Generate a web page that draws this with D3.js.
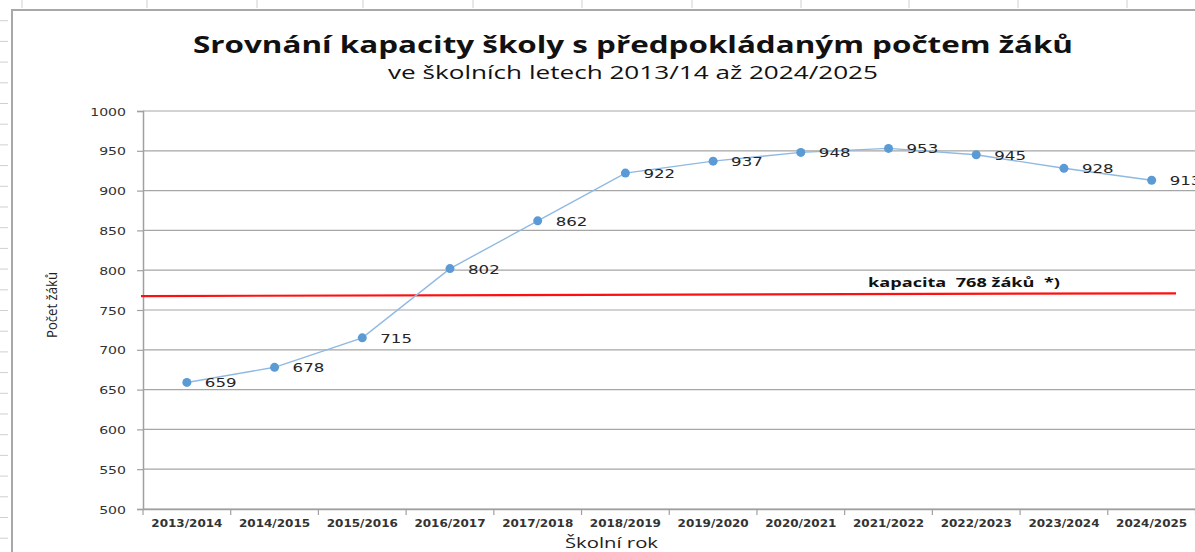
<!DOCTYPE html>
<html><head><meta charset="utf-8">
<script src="https://cdn.jsdelivr.net/npm/d3@7"></script>
<style>body{margin:0;background:#fff;overflow:hidden}svg{display:block}</style>
</head><body>
<svg id="c" width="1195" height="552"></svg>
<script>
const categories = ["2013/2014","2014/2015","2015/2016","2016/2017","2017/2018","2018/2019","2019/2020","2020/2021","2021/2022","2022/2023","2023/2024","2024/2025"];
const pupils = [659,678,715,802,862,922,937,948,953,945,928,913];
const capacityEnds = [767.5, 771];
const capacityLabel = "kapacita  768 žáků  *)";
const yTicks = [500,550,600,650,700,750,800,850,900,950,1000];
const title = "Srovnání kapacity školy s předpokládaným počtem žáků";
const subtitle = "ve školních letech 2013/14 až 2024/2025";
const xTitle = "Školní rok";
const yTitle = "Počet žáků";

const svg = d3.select("#c");
const M = {l:143, r:1195.5, t:111, b:509};
const x = d3.scaleBand().domain(categories).range([M.l, M.r]);
const y = d3.scaleLinear().domain([500,1000]).range([M.b, M.t]);
const SX = 1.28;

// spreadsheet background lines
const bg = svg.append("g");
for (let k=1;k<27;k++) bg.append("line").attr("x1",0).attr("x2",8).attr("y1",20.7*k).attr("y2",20.7*k).attr("stroke","#d0d0d0");
[22,147,257,363,473,582,692,801,909,1018,1127].forEach(v=>bg.append("line").attr("x1",v).attr("x2",v).attr("y1",0).attr("y2",8).attr("stroke","#d0d0d0"));
bg.append("path").attr("d","M12,552V10H1195").attr("fill","none").attr("stroke","#a8a8a8").attr("stroke-width",2);

// gridlines
svg.append("g").selectAll("line").data(yTicks).join("line")
  .attr("x1",M.l).attr("x2",M.r).attr("y1",d=>y(d)).attr("y2",d=>y(d))
  .attr("stroke","#a6a6a6").attr("stroke-width",1.2);

// y axis
const ya = svg.append("g").attr("transform",`translate(${M.l},0)`)
  .call(d3.axisLeft(y).tickValues(yTicks).tickSize(6).tickPadding(0).tickFormat(d3.format("d")));
ya.select(".domain").attr("stroke","#a0a0a0").attr("stroke-width",1.5);
ya.selectAll(".tick line").attr("stroke","#a0a0a0").attr("stroke-width",1.2);
ya.selectAll(".tick text").attr("x",0).attr("dy",null)
  .attr("transform","translate(-17,4) scale(1.28,1)")
  .attr("font-family","DejaVu Sans").attr("font-size",11).attr("fill","#333");

// x axis
const xa = svg.append("g").attr("transform",`translate(0,${M.b})`)
  .call(d3.axisBottom(x).tickSize(0).tickPadding(0));
xa.select(".domain").attr("stroke","#a0a0a0").attr("stroke-width",1.5);
xa.selectAll(".tick line").remove();
xa.selectAll(".tick text").attr("y",0).attr("dy",null)
  .attr("transform","translate(0,18) scale(1.2,1)")
  .attr("font-family","DejaVu Sans").attr("font-weight","bold").attr("font-size",10).attr("fill","#333");
// boundary tick marks
svg.append("g").selectAll("line").data(d3.range(categories.length+1)).join("line")
  .attr("x1",i=>M.l+i*x.step()).attr("x2",i=>M.l+i*x.step())
  .attr("y1",M.b).attr("y2",M.b+6).attr("stroke","#a0a0a0").attr("stroke-width",1.2);

// capacity line
const xc = [M.l-2, 1176];
svg.append("line").attr("x1",xc[0]).attr("x2",xc[1])
  .attr("y1",y(capacityEnds[0])).attr("y2",y(capacityEnds[1]))
  .attr("stroke","#ff1010").attr("stroke-width",2.2);
svg.append("text").attr("x",868).attr("y",287).text(capacityLabel)
  .attr("font-family","Open Sans").attr("font-weight","bold").attr("font-size",13).attr("fill","#111")
  .attr("textLength",192).attr("lengthAdjust","spacingAndGlyphs").style("white-space","pre");

// series
const cx = d=>x(d)+x.bandwidth()/2;
const line = d3.line().x((d,i)=>cx(categories[i])).y(d=>y(d));
svg.append("path").datum(pupils).attr("d",line).attr("fill","none").attr("stroke","#8fb9e3").attr("stroke-width",1.4);
svg.append("g").selectAll("circle").data(pupils).join("circle")
  .attr("cx",(d,i)=>cx(categories[i])).attr("cy",d=>y(d)).attr("r",4.5).attr("fill","#5b9bd5");
svg.append("g").selectAll("text").data(pupils).join("text")
  .attr("transform",(d,i)=>`translate(${cx(categories[i])+18},${y(d)+5}) scale(${SX},1)`)
  .text(d=>d).attr("font-family","DejaVu Sans").attr("font-size",13).attr("fill","#262626");

// titles
svg.append("text").attr("x",193).attr("y",53).text(title)
  .attr("font-family","Open Sans").attr("font-weight","bold").attr("font-size",24).attr("fill","#111")
  .attr("textLength",880).attr("lengthAdjust","spacingAndGlyphs");
svg.append("text").attr("x",388).attr("y",79).text(subtitle)
  .attr("font-family","Open Sans").attr("font-size",18).attr("fill","#111")
  .attr("textLength",490).attr("lengthAdjust","spacingAndGlyphs");
svg.append("text").attr("x",565).attr("y",548).text(xTitle)
  .attr("font-family","Open Sans").attr("font-size",14).attr("fill","#222")
  .attr("textLength",93).attr("lengthAdjust","spacingAndGlyphs");
svg.append("text").attr("transform","translate(57,338) rotate(-90)").text(yTitle)
  .attr("font-family","Open Sans").attr("font-size",14).attr("fill","#222")
  .attr("textLength",66).attr("lengthAdjust","spacingAndGlyphs");
</script>
</body></html>
